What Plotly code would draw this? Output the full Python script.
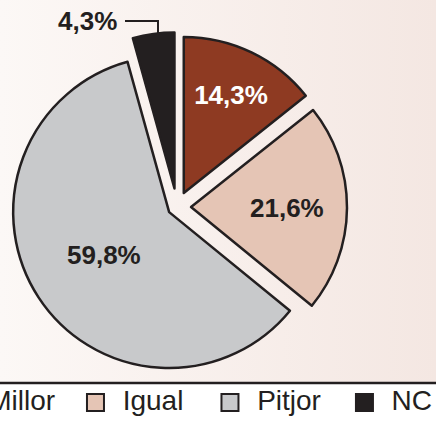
import plotly.graph_objects as go

W, H = 436, 424

# ---- data ----
categories = ["Millor", "Igual", "Pitjor", "NC"]
values = [14.3, 21.6, 59.8, 4.3]
slice_colors = ["#8E3A22", "#E5C5B5", "#C8C9CB", "#231F20"]
label_colors = ["#FFFFFF", "#231F20", "#231F20", "#FFFFFF"]
pulls = [0.10, 0.09, 0.06, 0.12]

DARK = "#231F20"
BG_LEFT = "#FCF8F6"
BG_RIGHT = "#F4E7E2"
LINE_Y = 383  # px from top, separator above the legend row


def px_x(x):
    return x / W


def px_y(y):
    return 1 - y / H


fig = go.Figure()

# background panel above the legend (horizontal gradient)
fig.add_trace(go.Scatter(
    x=[0, 1, 1, 0, 0], y=[0, 0, 1, 1, 0],
    mode="lines", line=dict(width=0),
    fill="toself",
    fillgradient=dict(type="horizontal", colorscale=[[0, BG_LEFT], [1, BG_RIGHT]]),
    showlegend=False, hoverinfo="skip",
    xaxis="x2", yaxis="y2",
))

# pie
fig.add_trace(go.Pie(
    labels=categories,
    values=values,
    sort=False,
    direction="clockwise",
    rotation=0,
    pull=pulls,
    marker=dict(colors=slice_colors, line=dict(color=DARK, width=2.5)),
    texttemplate=["%{percent:.1%}", "%{percent:.1%}", "%{percent:.1%}", ""],
    textposition="inside",
    insidetextorientation="horizontal",
    insidetextfont=dict(family="Arial, Liberation Sans", size=26, color=label_colors, weight="bold"),
    domain=dict(x=[0.0053, 0.8066], y=[0.0998, 0.9238]),
    showlegend=False,
    hoverinfo="label+percent",
))

# legend row drawn as a scatter trace (categories as text)
fig.add_trace(go.Scatter(
    x=list(range(len(categories))),
    y=[0] * len(categories),
    mode="markers+text",
    text=["\u00a0\u00a0" + c for c in categories],
    textposition="middle right",
    textfont=dict(family="Arial, Liberation Sans", size=28, color=DARK),
    marker=dict(symbol="square", size=17, color=slice_colors, line=dict(color=DARK, width=2)),
    cliponaxis=True,
    showlegend=False,
    hoverinfo="skip",
    xaxis="x", yaxis="y",
))

nc_label = f"{values[3]:.1f}%".replace(".", ",")

fig.update_layout(
    width=W, height=H,
    margin=dict(l=0, r=0, t=0, b=0, autoexpand=False),
    paper_bgcolor="white",
    plot_bgcolor="rgba(0,0,0,0)",
    separators=",.",
    xaxis=dict(domain=[0, 1], range=[0.29, 3.532], visible=False, fixedrange=True),
    yaxis=dict(domain=[0, 0.1014], range=[-1, 1], visible=False, fixedrange=True),
    xaxis2=dict(domain=[0, 1], range=[0, 1], visible=False, fixedrange=True, anchor="y2"),
    yaxis2=dict(domain=[px_y(LINE_Y), 1], range=[0, 1], visible=False, fixedrange=True, anchor="x2"),
    shapes=[
        dict(type="line", xref="paper", yref="paper", x0=0, x1=1, y0=px_y(LINE_Y), y1=px_y(LINE_Y),
             line=dict(color=DARK, width=2.5)),
        dict(type="path", xref="paper", yref="paper",
             path=f"M {px_x(125)},{px_y(21)} L {px_x(158)},{px_y(21)} L {px_x(158)},{px_y(41)}",
             line=dict(color=DARK, width=2)),
    ],
    annotations=[
        dict(text=nc_label, xref="paper", yref="paper", x=px_x(87), y=px_y(21),
             xanchor="center", yanchor="middle", showarrow=False,
             font=dict(family="Arial, Liberation Sans", size=26, color=DARK, weight="bold")),
    ],
)

fig.write_html(
    "out.html",
    config={"displayModeBar": False},
    post_script="document.body.style.margin='0';document.body.style.padding='0';",
)
